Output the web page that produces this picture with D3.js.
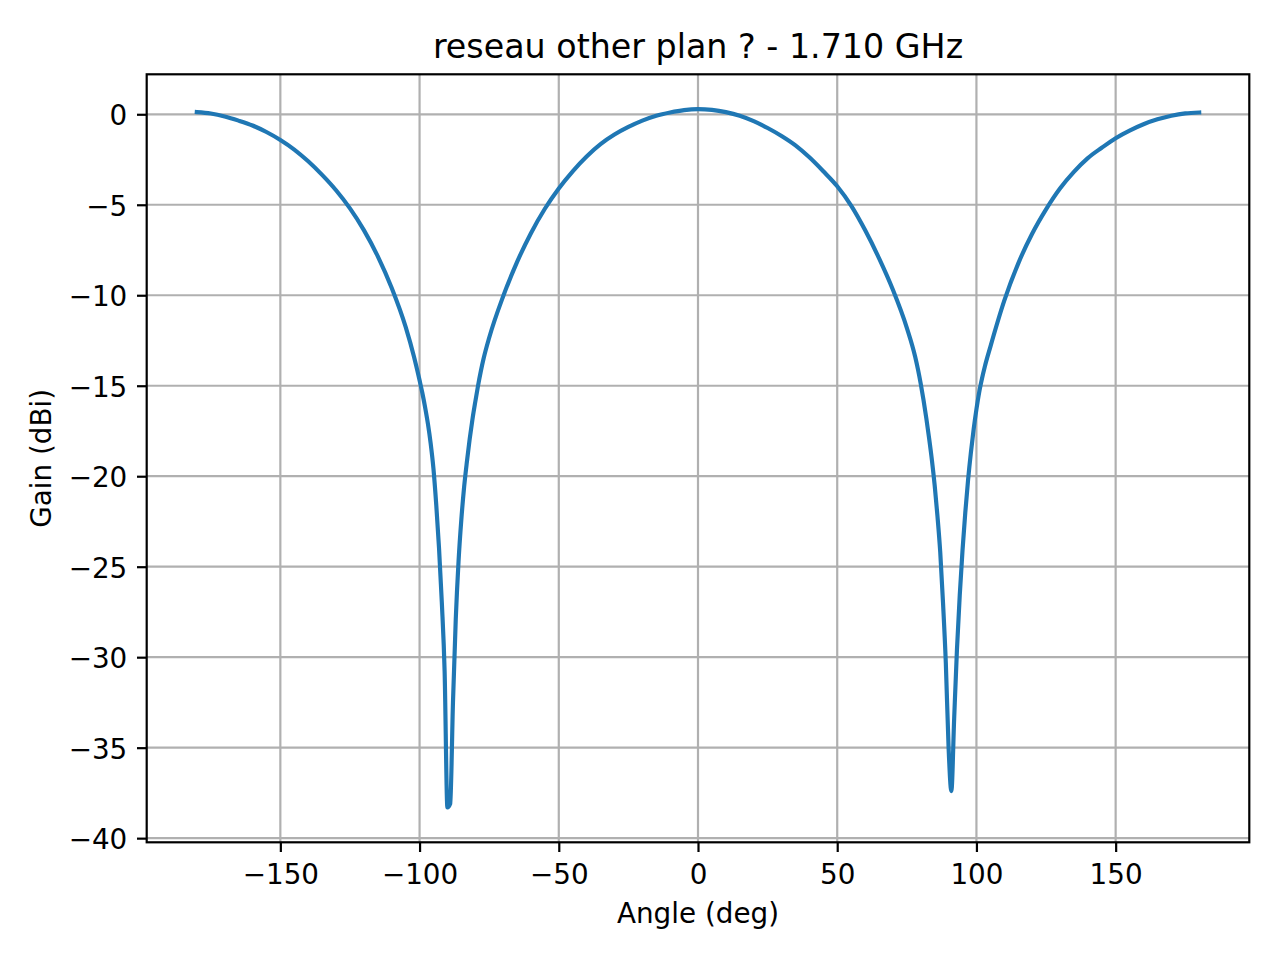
<!doctype html>
<html>
  <head>
    <meta charset="utf-8">
    <script src="https://d3js.org/d3.v7.min.js"></script>
    <style>
      body { margin: 0; background: #fff; }
      text { font-family: "DejaVu Sans", sans-serif; fill: #000; }
    </style>
  </head>
  <body>
    <script>
    var angles = [-180, -175, -170, -165, -160, -155, -150, -145, -140, -135, -130, -125, -120, -115, -110, -105, -102,
                  -100, -99, -98, -97, -96, -95, -94, -93, -92, -91, -90, -89, -88, -87, -86, -85, -84, -83, -82, -81, -80,
                  -79, -78, -77, -75, -70, -65, -60, -55, -50, -45, -40, -35, -30, -25, -20, -15, -10, -5,
                  0, 5, 10, 15, 20, 25, 30, 35, 40, 45, 50, 55, 60, 65, 70, 75, 78, 79,
                  80, 81, 82, 83, 84, 85, 86, 87, 88, 89, 90, 91, 92, 93, 94, 95, 96, 97, 98, 99,
                  100, 101, 102, 103, 105, 110, 115, 120, 125, 130, 135, 140, 145, 150, 155, 160, 165, 170, 175, 180];
    var gains = [0.12, 0.04, -0.12, -0.35, -0.62, -0.98, -1.42, -1.95, -2.6, -3.35, -4.2, -5.2, -6.4, -7.85, -9.6, -11.75, -13.4,
                 -14.7, -15.4, -16.2, -17.1, -18.2, -19.6, -21.6, -24.0, -27.0, -30.8, -38.3, -38.1, -32.5, -27.9, -24.7, -22.4, -20.6, -19.2, -17.95, -16.85, -15.9,
                 -15.0, -14.2, -13.5, -12.35, -10.07, -8.17, -6.57, -5.22, -4.1, -3.15, -2.33, -1.65, -1.12, -0.7, -0.35, -0.08, 0.1, 0.23,
                 0.28, 0.24, 0.12, -0.08, -0.38, -0.76, -1.2, -1.72, -2.38, -3.15, -3.98, -5.05, -6.4, -7.95, -9.7, -11.8, -13.4, -14.1,
                 -14.9, -15.8, -16.8, -17.9, -19.1, -20.5, -22.2, -24.2, -27.0, -30.3, -35.0, -37.4, -33.4, -29.6, -26.6, -24.1, -22.0, -20.2, -18.7, -17.4,
                 -16.3, -15.35, -14.6, -13.95, -12.85, -10.3, -8.25, -6.6, -5.25, -4.1, -3.18, -2.42, -1.85, -1.32, -0.9, -0.55, -0.28, -0.08, 0.05, 0.1];

    var xTicks = [-150, -100, -50, 0, 50, 100, 150];
    var yTicks = [-40, -35, -30, -25, -20, -15, -10, -5, 0];

    var titleText = "reseau other plan ? - 1.710 GHz";
    var xLabel = "Angle (deg)";
    var yLabel = "Gain (dBi)";

    var width = 1280;
    var height = 960;

    var margin = {
      top: 74.3,
      right: 1280 - 1249.3,
      bottom: 960 - 842.3,
      left: 146.7
    };

    var innerWidth = width - margin.left - margin.right;
    var innerHeight = height - margin.top - margin.bottom;

    var fontPx = 27.8;
    var tickLen = 9.7;

    var data = angles.map(function(a, i) { return {angle: a, gain: gains[i]}; });

    // matplotlib style 5% margins
    var xMin = d3.min(angles), xMax = d3.max(angles);
    var yMin = d3.min(gains), yMax = d3.max(gains);
    var xPad = (xMax - xMin) * 0.05, yPad = (yMax - yMin) * 0.05;

    var x = d3.scaleLinear().domain([xMin - xPad, xMax + xPad]).range([0, innerWidth]);
    var y = d3.scaleLinear().domain([yMin - yPad, yMax + yPad]).range([innerHeight, 0]);

    var fmt = function(d) { return d < 0 ? "\u2212" + Math.abs(d) : "" + d; };

    var svg = d3.select("body")
              .append("svg")
              .attr("width", width)
              .attr("height", height);

    svg.append("rect")
      .attr("width", width)
      .attr("height", height)
      .attr("fill", "#fff");

    var g = svg
            .append('g')
            .attr('transform', 'translate(' + margin.left + ',' + margin.top + ')');

    // grid
    g.selectAll(".vgrid")
      .data(xTicks)
      .enter().append("line")
      .attr("x1", function(d) { return x(d); })
      .attr("x2", function(d) { return x(d); })
      .attr("y1", 0)
      .attr("y2", innerHeight)
      .attr("stroke", "#b0b0b0")
      .attr("stroke-width", 2.2);

    g.selectAll(".hgrid")
      .data(yTicks)
      .enter().append("line")
      .attr("x1", 0)
      .attr("x2", innerWidth)
      .attr("y1", function(d) { return y(d); })
      .attr("y2", function(d) { return y(d); })
      .attr("stroke", "#b0b0b0")
      .attr("stroke-width", 2.2);

    // the curve (monotone so the sparse readings don't look faceted)
    var line = d3.line()
      .curve(d3.curveMonotoneX)
      .x(function(d) { return x(d.angle); })
      .y(function(d) { return y(d.gain); });

    g.append("path")
      .datum(data)
      .attr("d", line)
      .attr("fill", "none")
      .attr("stroke", "#1f77b4")
      .attr("stroke-width", 4.17)
      .attr("stroke-linejoin", "round")
      .attr("stroke-linecap", "square");

    // axes
    var xAxis = d3.axisBottom(x)
      .tickValues(xTicks)
      .tickFormat(fmt)
      .tickSize(tickLen)
      .tickPadding(9.7);

    var yAxis = d3.axisLeft(y)
      .tickValues(yTicks)
      .tickFormat(fmt)
      .tickSize(tickLen)
      .tickPadding(9.7);

    var gx = g.append("g")
      .attr("transform", "translate(0," + innerHeight + ")")
      .call(xAxis);

    var gy = g.append("g")
      .call(yAxis);

    [gx, gy].forEach(function(ax) {
      ax.select(".domain").remove();
      ax.selectAll(".tick line").attr("stroke", "#000").attr("stroke-width", 2.2);
      ax.selectAll(".tick text")
        .attr("fill", "#000")
        .style("font-family", "'DejaVu Sans', sans-serif")
        .style("font-size", fontPx + "px");
    });

    gx.selectAll(".tick text").attr("dy", null).attr("y", 42.2);
    gy.selectAll(".tick text").attr("dy", null).attr("y", 10.6);

    // frame
    g.append("rect")
      .attr("width", innerWidth)
      .attr("height", innerHeight)
      .attr("fill", "none")
      .attr("stroke", "#000")
      .attr("stroke-width", 2.2);

    // texts
    svg.append("text")
      .attr("x", margin.left + innerWidth / 2)
      .attr("y", 58)
      .attr("text-anchor", "middle")
      .style("font-size", "33.3px")
      .text(titleText);

    svg.append("text")
      .attr("x", margin.left + innerWidth / 2)
      .attr("y", 923)
      .attr("text-anchor", "middle")
      .style("font-size", fontPx + "px")
      .text(xLabel);

    svg.append("text")
      .attr("transform", "translate(51," + (margin.top + innerHeight / 2) + ") rotate(-90)")
      .attr("text-anchor", "middle")
      .style("font-size", fontPx + "px")
      .text(yLabel);
    </script>
  </body>
</html>
